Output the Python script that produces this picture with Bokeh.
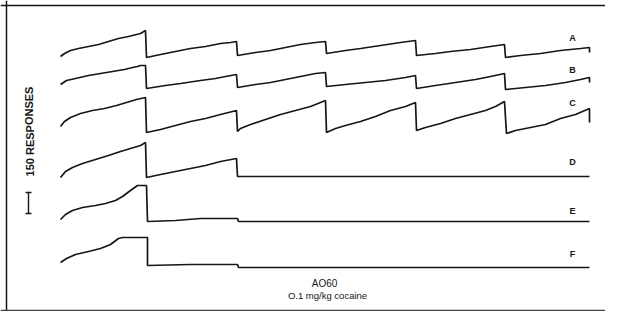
from bokeh.plotting import figure
from bokeh.models import Range1d, Label, Span
from bokeh.embed import file_html
from bokeh.resources import INLINE

# Cumulative records (chart units: time across, pen position down)
trace_names = ["A", "B", "C", "D", "E", "F"]

a_x = [60, 64, 70, 78, 88, 98, 108, 118, 128, 136, 140, 145,
       146, 160, 175, 190, 205, 220, 230, 236,
       237, 255, 270, 285, 300, 315, 325,
       326, 345, 360, 380, 400, 415,
       416, 435, 450, 470, 490, 504,
       505, 520, 540, 560, 580, 589, 589]
a_y = [56, 53, 50, 48, 46, 44, 41, 38, 36, 34, 33, 30,
       57, 54, 51, 48, 46, 43, 42, 41,
       55, 52, 50, 47, 44, 42, 41,
       53, 50, 48, 45, 42, 40,
       55, 53, 51, 49, 46, 44,
       57, 55, 53, 50, 48, 47, 52]

b_x = [60, 66, 75, 88, 100, 112, 124, 132, 137, 140, 145,
       146, 165, 180, 200, 215, 225, 236,
       237, 255, 270, 290, 305, 315, 325,
       326, 345, 365, 385, 405, 415,
       416, 435, 455, 475, 490, 504,
       505, 525, 545, 565, 580, 589, 589]
b_y = [84, 80, 78, 75, 73, 71, 69, 67, 66, 65, 65,
       88, 85, 83, 80, 78, 76, 74,
       87, 84, 82, 78, 75, 73, 72,
       86, 84, 82, 80, 77, 75,
       88, 85, 82, 79, 76, 73,
       89, 87, 85, 82, 79, 77, 82]

c_x = [60, 64, 70, 80, 92, 104, 116, 126, 136, 145,
       146, 160, 175, 190, 205, 220, 236,
       237, 240, 250, 265, 280, 295, 310, 325,
       326, 335, 345, 360, 375, 390, 405, 415,
       416, 425, 440, 455, 470, 485, 495, 504,
       506, 515, 530, 545, 560, 575, 589, 589]
c_y = [126, 121, 117, 113, 110, 108, 105, 102, 99, 97,
       132, 129, 125, 121, 118, 114, 110,
       131, 128, 124, 119, 114, 110, 106, 100,
       132, 128, 125, 121, 116, 110, 106, 102,
       130, 127, 123, 118, 114, 110, 106, 101,
       133, 130, 127, 124, 118, 114, 108, 122]

d_x = [60, 65, 72, 82, 95, 108, 120, 130, 140, 145,
       146, 160, 175, 190, 205, 220, 236,
       237, 589]
d_y = [177, 171, 167, 163, 159, 155, 151, 148, 145, 142,
       177, 174, 171, 168, 165, 161, 158,
       176, 176]

e_x = [60, 65, 72, 82, 95, 105, 115, 122, 130, 137, 146,
       147, 175, 200, 237, 238, 589]
e_y = [219, 214, 210, 207, 205, 203, 200, 196, 190, 185, 185,
       221, 220, 218, 218, 221, 221]

f_x = [60, 66, 75, 88, 100, 110, 118, 122, 147,
       147, 190, 237, 238, 589]
f_y = [262, 258, 254, 251, 248, 244, 238, 237, 237,
       265, 264, 264, 267, 267]

label_y = [37, 69, 102, 161, 210, 253]

traces = [(a_x, a_y), (b_x, b_y), (c_x, c_y), (d_x, d_y), (e_x, e_y), (f_x, f_y)]

INK = "#161616"
FONT = "Liberation Sans"

p = figure(width=605, height=311, x_range=Range1d(0, 605), y_range=Range1d(311, 0),
           output_backend="svg", toolbar_location=None, tools="",
           x_axis_type=None, y_axis_type=None, min_border=0)
p.grid.visible = False
p.outline_line_color = None
p.background_fill_color = "white"
p.border_fill_color = "white"

for xs, ys in traces:
    p.line(xs, ys, line_color=INK, line_width=1.7)

for name, ly in zip(trace_names, label_y):
    p.add_layout(Label(x=572, y=ly, text=name, text_align="center", text_baseline="middle",
                       text_font=FONT, text_font_size="9px", text_font_style="bold",
                       text_color=INK))

# frame (top, left, bottom)
p.add_layout(Span(location=5, dimension="width", line_color=INK, line_width=1.5))
p.add_layout(Span(location=6, dimension="height", line_color=INK, line_width=1.5))
p.add_layout(Span(location=310, dimension="width", line_color="#444444", line_width=1.5))

# scale bar: 150 responses
p.segment(x0=[28, 25, 25], y0=[192, 192, 213], x1=[28, 31, 31], y1=[213, 192, 213],
          line_color=INK, line_width=1.4)
p.add_layout(Label(x=29, y=131, text="150 RESPONSES", angle=1.5708, text_align="center",
                   text_baseline="middle", text_font=FONT, text_font_size="11px",
                   text_font_style="bold", text_color=INK))

p.add_layout(Label(x=324, y=283, text="AO60", text_align="center", text_baseline="middle",
                   text_font=FONT, text_font_size="10px", text_color=INK))
p.add_layout(Label(x=327, y=295, text="O.1 mg/kg cocaine", text_align="center",
                   text_baseline="middle", text_font=FONT, text_font_size="9.5px",
                   text_color=INK))

open("out.html", "w").write(file_html(p, INLINE))
